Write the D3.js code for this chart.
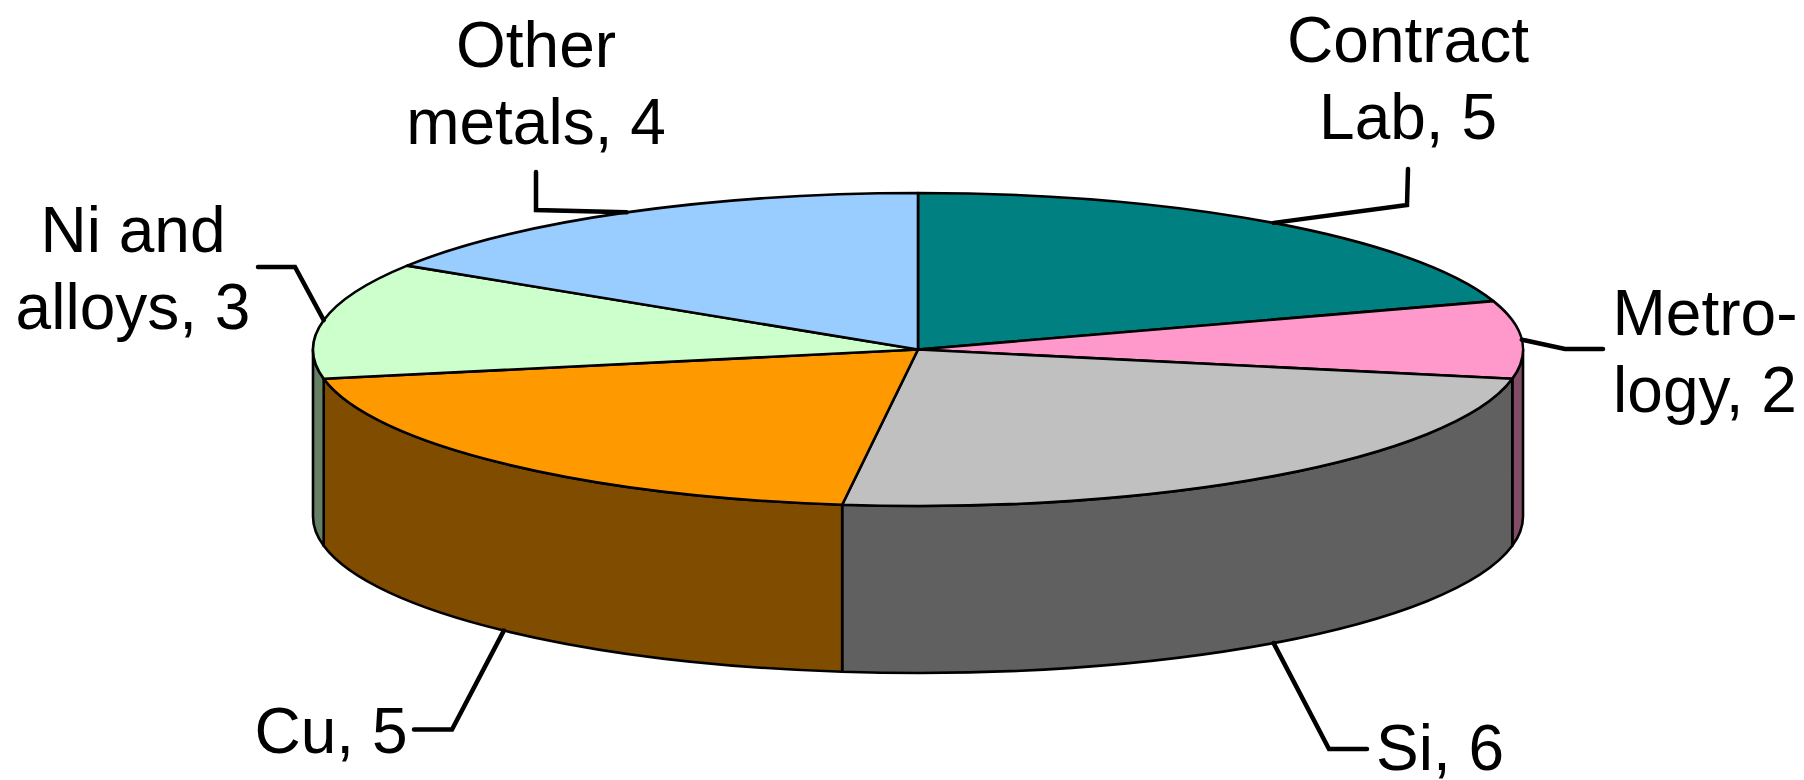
<!DOCTYPE html>
<html>
<head>
<meta charset="utf-8">
<title>Distribution by sector</title>
<script src="https://cdn.jsdelivr.net/npm/d3@7/dist/d3.min.js"></script>
<style>
  html, body { margin: 0; padding: 0; background: #fff; }
  svg { display: block; }
  text { font-family: "Liberation Sans", Arial, sans-serif; font-size: 64px; fill: #000; }
</style>
</head>
<body>
<svg id="chart" width="1804" height="780"></svg>
<script>
// Wedge data, clockwise from twelve o'clock
const categories = ["Contract Lab", "Metrology", "Si", "Cu", "Ni and alloys", "Other metals"];
const values = [5, 2, 6, 5, 3, 4];
const labelLines = [
  ["Contract", "Lab, 5"],
  ["Metro-", "logy, 2"],
  ["Si, 6"],
  ["Cu, 5"],
  ["Ni and", "alloys, 3"],
  ["Other", "metals, 4"]
];
const topColors = ["#008080", "#FF99CC", "#C0C0C0", "#FF9900", "#CCFFCC", "#99CCFF"];
const sideColors = ["#004040", "#804C66", "#606060", "#804C00", "#668066", "#4C6680"];

// Disc projection
const cx = 918, cy = 349.5, rx = 605, ry = 156.5, depth = 167;
const xScale = d3.scaleLinear().domain([-1, 1]).range([cx - rx, cx + rx]);
const yScale = d3.scaleLinear().domain([-1, 1]).range([cy + ry, cy - ry]);

// Elbow and end of each leader, then label centre and first baseline
const leaderLayout = [
  { elbow: [1407, 205], end: [1408, 169], tx: 1408, ty: 62, rim: "top" },
  { elbow: [1565, 349], end: [1603, 349], tx: 1705, ty: 335, rim: "top" },
  { elbow: [1329, 749], end: [1367, 749], tx: 1440, ty: 770, rim: "bottom" },
  { elbow: [452, 729.5], end: [414, 729.5], tx: 331, ty: 752.5, rim: "bottom" },
  { elbow: [295, 267], end: [258, 267], tx: 133, ty: 252, rim: "top" },
  { elbow: [536, 210], end: [536, 172], tx: 536, ty: 67, rim: "top" }
];
const lineStep = 77;

const pie = d3.pie().sort(null).value(d => d)(values);

const project = a => [xScale(Math.sin(a)), yScale(Math.cos(a))];

// Single cubic segment along the rim between two angles
function rimCurve(a0, a1) {
  const h = 4 / 3 * Math.tan((a1 - a0) / 4);
  const tangent = a => [rx * Math.cos(a), ry * Math.sin(a)];
  const p0 = project(a0), p3 = project(a1), t0 = tangent(a0), t1 = tangent(a1);
  return [
    p0,
    [p0[0] + h * t0[0], p0[1] + h * t0[1]],
    [p3[0] - h * t1[0], p3[1] - h * t1[1]],
    p3
  ];
}
const shift = (c, dy) => c.map(p => [p[0], p[1] + dy]);

const svg = d3.select("#chart");

// Visible side wall: the part of each wedge on the near half of the disc
const sideGroup = svg.append("g").attr("stroke", "#000").attr("stroke-width", 2.6).attr("stroke-linejoin", "round");
pie.forEach((d, i) => {
  const a0 = Math.max(d.startAngle, Math.PI / 2);
  const a1 = Math.min(d.endAngle, 3 * Math.PI / 2);
  if (a1 <= a0) return;
  const upper = rimCurve(a0, a1);
  const lower = shift(upper, depth);
  const p = d3.path();
  p.moveTo(...upper[0]);
  p.bezierCurveTo(...upper[1], ...upper[2], ...upper[3]);
  p.lineTo(...lower[3]);
  p.bezierCurveTo(...lower[2], ...lower[1], ...lower[0]);
  p.closePath();
  sideGroup.append("path").attr("d", p.toString()).attr("fill", sideColors[i]);
});

// Top face wedges
const topGroup = svg.append("g").attr("stroke", "#000").attr("stroke-width", 2.6).attr("stroke-linejoin", "round");
pie.forEach((d, i) => {
  const c = rimCurve(d.startAngle, d.endAngle);
  const p = d3.path();
  p.moveTo(cx, cy);
  p.lineTo(...c[0]);
  p.bezierCurveTo(...c[1], ...c[2], ...c[3]);
  p.closePath();
  topGroup.append("path").attr("d", p.toString()).attr("fill", topColors[i]);
});

// Leaders start at the middle of each wedge's rim
const leaderLine = d3.line();
svg.append("g").selectAll("path").data(pie).join("path")
  .attr("fill", "none").attr("stroke", "#000").attr("stroke-width", 4.5)
  .attr("stroke-linecap", "round").attr("stroke-linejoin", "miter")
  .attr("d", (d, i) => {
    const l = leaderLayout[i];
    const m = project((d.startAngle + d.endAngle) / 2);
    const mid = l.rim === "bottom" ? [m[0], m[1] + depth] : m;
    return leaderLine([mid, l.elbow, l.end]);
  });

// Labels
categories.forEach((name, i) => {
  const l = leaderLayout[i];
  const t = svg.append("text").attr("text-anchor", "middle").attr("data-category", name);
  labelLines[i].forEach((line, j) => {
    t.append("tspan").attr("x", l.tx).attr("y", l.ty + j * lineStep).text(line);
  });
});
</script>
</body>
</html>
